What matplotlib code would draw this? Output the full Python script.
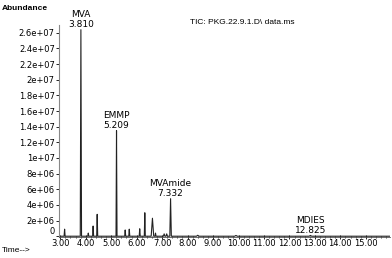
import matplotlib.pyplot as plt
from matplotlib.ticker import FixedLocator, MultipleLocator, FormatStrFormatter
import numpy as np

plt.rcParams['font.family'] = ['Liberation Sans', 'DejaVu Sans']

# peaks: retention time (min), abundance, half width (min)
peak_times = [3.17, 3.81, 4.10, 4.29, 4.45, 5.209, 5.55, 5.71, 6.12, 6.32,
              6.62, 6.74, 7.08, 7.18, 7.332, 8.40, 9.90, 12.825]
peak_heights = [0.9e6, 26.4e6, 0.4e6, 1.3e6, 2.8e6, 13.5e6, 0.8e6, 0.9e6, 0.95e6, 3.0e6,
                2.3e6, 0.4e6, 0.3e6, 0.3e6, 4.8e6, 0.12e6, 0.1e6, 0.1e6]
peak_widths = [0.02, 0.025, 0.02, 0.02, 0.02, 0.02, 0.02, 0.02, 0.02, 0.02,
               0.05, 0.02, 0.03, 0.03, 0.03, 0.05, 0.05, 0.05]

labels = {3.81: ('MVA', '3.810'), 5.209: ('EMMP', '5.209'),
          7.332: ('MVAmide', '7.332'), 12.825: ('MDIES', '12.825')}

y_ticks = [0, 2e6, 4e6, 6e6, 8e6, 1e7, 1.2e7, 1.4e7, 1.6e7, 1.8e7, 2e7, 2.2e7, 2.4e7, 2.6e7]
y_ticklabels = ['%g' % v for v in y_ticks]

# trace: baseline joined through each peak apex
t = [2.95]
a = [0.0]
for tp, h, w in zip(peak_times, peak_heights, peak_widths):
    t += [tp - w, tp, tp + w]
    a += [0.0, h, 0.0]
t.append(15.95)
a.append(0.0)

fig = plt.figure(figsize=(3.92, 2.58), dpi=100)
ax = fig.add_axes([59 / 392, 21 / 258, 331 / 392, 212 / 258])
ax.plot(t, a, color='#222222', lw=0.8)

ax.set_xlim(2.95, 15.95)
ax.set_ylim(-0.1e6, 27.0e6)
for s in ['top', 'right']:
    ax.spines[s].set_visible(False)
ax.spines['left'].set_color('#888888')
ax.spines['bottom'].set_color('#555555')
ax.spines['left'].set_linewidth(0.8)
ax.spines['bottom'].set_linewidth(0.6)

ax.xaxis.set_major_locator(FixedLocator(np.arange(3, 15.01, 1.0)))
ax.xaxis.set_major_formatter(FormatStrFormatter('%.2f'))
ax.xaxis.set_minor_locator(MultipleLocator(0.2))
ax.set_yticks(y_ticks)
ax.set_yticklabels(y_ticklabels)
ax.tick_params(axis='x', which='major', direction='inout', length=3, width=0.6,
               labelsize=6, pad=0)
ax.tick_params(axis='x', which='minor', direction='inout', length=2, width=0.5)
ax.tick_params(axis='y', direction='out', length=2, width=0.6, labelsize=6, pad=1)
for lab in ax.get_xticklabels() + ax.get_yticklabels():
    lab.set_family('DejaVu Sans')
ax.get_yticklabels()[0].set_va('bottom')

for tp, h in zip(peak_times, peak_heights):
    if tp in labels:
        name, rt = labels[tp]
        ax.annotate(rt, (tp, h), xytext=(0, 0.5), textcoords='offset points',
                    ha='center', va='bottom', fontsize=6.5, family='DejaVu Sans')
        ax.annotate(name, (tp, h), xytext=(0, 7.5), textcoords='offset points',
                    ha='center', va='bottom', fontsize=6.5, family='Liberation Sans Narrow')

fig.text(2 / 392, 1 - 8 / 258, 'Abundance', fontsize=6, fontweight='bold', va='center')
fig.text(190 / 392, 1 - 22 / 258, 'TIC: PKG.22.9.1.D\\ data.ms', fontsize=6,
         va='center')
fig.text(2 / 392, 1 - 251 / 258, 'Time-->', fontsize=6, va='center')

fig.savefig('out.png', dpi=100)
